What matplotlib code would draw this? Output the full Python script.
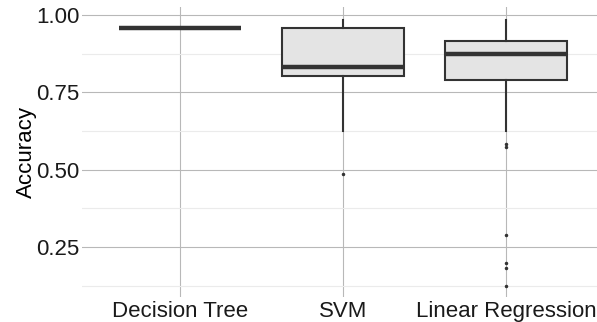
import matplotlib
matplotlib.use("Agg")
import matplotlib.pyplot as plt
from matplotlib.ticker import MultipleLocator

categories = ["Decision Tree", "SVM", "Linear Regression"]
whislo = [0.958, 0.625, 0.625]
q1 = [0.958, 0.803, 0.789]
med = [0.958, 0.831, 0.874]
q3 = [0.958, 0.957, 0.915]
whishi = [0.958, 0.984, 0.984]
outliers = [[], [0.485], [0.583, 0.572, 0.290, 0.198, 0.181, 0.124]]

plt.rcParams['font.family'] = ['Liberation Sans', 'DejaVu Sans']

fig = plt.figure(figsize=(5.97, 3.22), dpi=100)
W, H = 597, 322
x0, x1 = 82.2, 603.8
ytop, ybot = 7, 297
ax = fig.add_axes([x0 / W, 1 - ybot / H, (x1 - x0) / W, (ybot - ytop) / H])

stats = []
for i, c in enumerate(categories):
    stats.append(dict(label=c, whislo=whislo[i], q1=q1[i], med=med[i],
                      q3=q3[i], whishi=whishi[i], fliers=outliers[i]))

ax.bxp(stats, positions=range(len(categories)), widths=0.75, patch_artist=True,
       showcaps=False,
       boxprops=dict(facecolor="#e4e4e4", edgecolor="#333333", linewidth=1.5),
       medianprops=dict(color="#333333", linewidth=3.2, solid_capstyle="butt"),
       whiskerprops=dict(color="#333333", linewidth=1.5),
       flierprops=dict(marker="o", markersize=1.5, markerfacecolor="#333333",
                       markeredgecolor="#333333"))

ax.set_xlim(-0.6, 2.6)
ax.set_ylim(0.088, 1.026)
ax.yaxis.set_minor_locator(MultipleLocator(0.125))
ax.set_yticks([0.25, 0.5, 0.75, 1.0])
ax.set_yticklabels(["0.25", "0.50", "0.75", "1.00"])
ax.set_xticks(range(len(categories)))
ax.set_xticklabels(categories)

ax.set_axisbelow(True)
ax.grid(True, which="major", axis="both", color="#b8b8b8", linewidth=0.8)
ax.grid(True, which="minor", axis="y", color="#ebebeb", linewidth=0.8)
for s in ax.spines.values():
    s.set_visible(False)
ax.tick_params(which="both", length=0, labelsize=16, colors="#1a1a1a", pad=2)
ax.tick_params(axis="x", pad=3)
ax.set_ylabel("Accuracy", fontsize=16, color="black", labelpad=-1)

fig.savefig("out.png", dpi=100)
